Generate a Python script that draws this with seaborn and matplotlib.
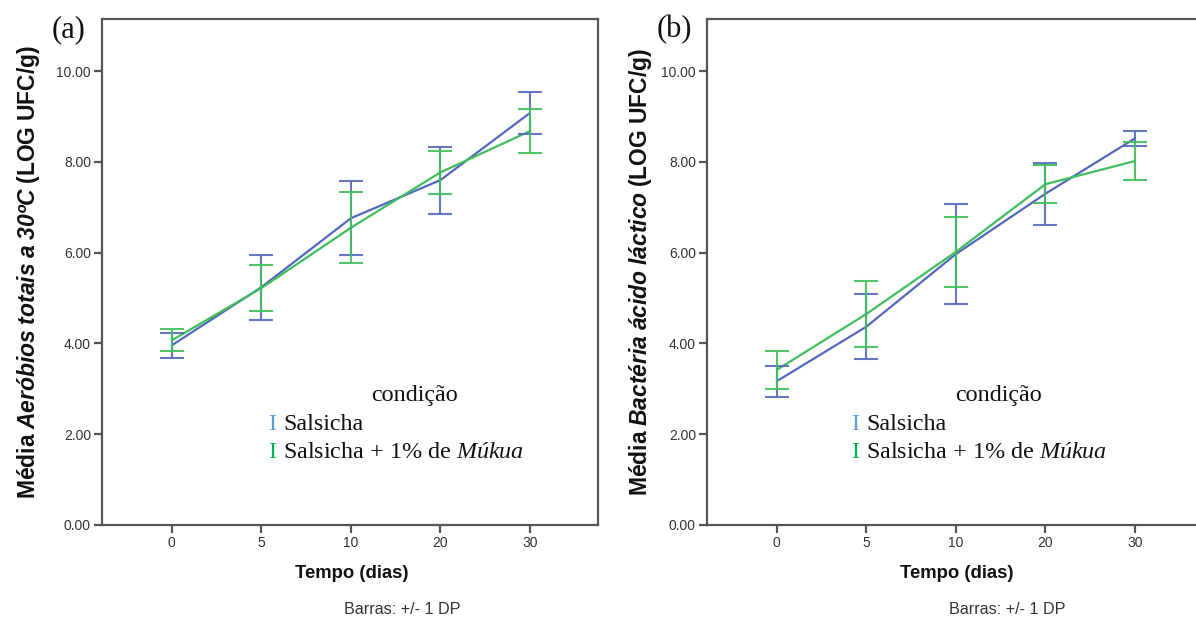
import numpy as np
import pandas as pd
import matplotlib
matplotlib.use("Agg")
import matplotlib.pyplot as plt
import seaborn as sns

# ---- data ----
days = ["0", "5", "10", "20", "30"]
conditions = ["Salsicha", "Salsicha + 1% de Múkua"]

a_mean_salsicha = [3.96, 5.24, 6.76, 7.60, 9.08]
a_sd_salsicha = [0.27, 0.72, 0.81, 0.74, 0.46]
a_mean_mukua = [4.07, 5.22, 6.55, 7.77, 8.68]
a_sd_mukua = [0.24, 0.50, 0.78, 0.48, 0.48]

b_mean_salsicha = [3.17, 4.37, 5.97, 7.30, 8.52]
b_sd_salsicha = [0.34, 0.72, 1.10, 0.68, 0.17]
b_mean_mukua = [3.42, 4.65, 6.02, 7.51, 8.02]
b_sd_mukua = [0.42, 0.72, 0.77, 0.42, 0.42]

y_ticks = [0, 2, 4, 6, 8, 10]

sns.set_theme(style="white")
plt.rcParams["font.family"] = ["Liberation Sans", "DejaVu Sans"]
plt.rcParams["mathtext.fontset"] = "custom"
plt.rcParams["mathtext.rm"] = "Liberation Serif"
plt.rcParams["mathtext.it"] = "Liberation Serif:italic"
plt.rcParams["mathtext.bf"] = "Liberation Sans:bold"
plt.rcParams["mathtext.bfit"] = "Liberation Sans:italic:bold"

BLUE = "#5567bd"
GREEN = "#3fbf5c"
LEG_BLUE = "#5b9bd5"
LEG_GREEN = "#00b050"
SPINE = "#555555"

fig = plt.figure(figsize=(11.96, 6.24), dpi=100)

W = 1196.0
H = 624.0
ax_w = 496 / W
ax_b = 1 - 525 / H
ax_h = (525 - 19) / H
ax_a = fig.add_axes([102 / W, ax_b, ax_w, ax_h])
ax_bb = fig.add_axes([707 / W, ax_b, ax_w, ax_h])


def draw_panel(ax, m1, s1, m2, s2):
    pos = np.arange(len(days))
    df = pd.DataFrame({
        "pos": np.concatenate([pos, pos]),
        "mean": m1 + m2,
        "sd": s1 + s2,
        "cond": [conditions[0]] * len(days) + [conditions[1]] * len(days),
    })
    pal = {conditions[0]: BLUE, conditions[1]: GREEN}
    sns.lineplot(data=df, x="pos", y="mean", hue="cond", palette=pal,
                 legend=False, ax=ax, linewidth=1.6, sort=False)
    for cond in conditions:
        sub = df[df["cond"] == cond]
        ax.errorbar(sub["pos"], sub["mean"], yerr=sub["sd"], fmt="none",
                    ecolor=pal[cond], elinewidth=1.5, capsize=8.5,
                    capthick=1.5, alpha=0.9)
    ax.set_xlim(-0.78, 4.76)
    ax.set_ylim(0, 11.15)
    ax.set_xticks(pos)
    ax.set_xticklabels(days)
    ax.set_yticks(y_ticks)
    ax.set_yticklabels([f"{v:.2f}" for v in y_ticks])
    ax.set_xlabel("")
    ax.set_ylabel("")
    for sp in ax.spines.values():
        sp.set_color(SPINE)
        sp.set_linewidth(1.6)
    ax.tick_params(axis="both", which="major", direction="out", length=6,
                   width=1.6, color=SPINE, labelsize=10, labelcolor="#333333",
                   left=True, bottom=True, pad=2)
    ax.grid(False)


draw_panel(ax_a, a_mean_salsicha, a_sd_salsicha, a_mean_mukua, a_sd_mukua)
draw_panel(ax_bb, b_mean_salsicha, b_sd_salsicha, b_mean_mukua, b_sd_mukua)

# axis labels
for x0 in (352, 957):
    fig.text(x0 / W, 1 - 573 / H, "Tempo (dias)", ha="center", va="center",
             fontsize=13.3, fontweight="bold", color="#111111")
    fig.text((x0 + 50) / W, 1 - 610 / H, "Barras: +/- 1 DP", ha="center",
             va="center", fontsize=11.6, color="#333333")

fig.text(29 / W, 1 - 272 / H,
         r"$\mathbf{Média}\ \mathbfit{Aeróbios\ totais\ a\ 30ºC}\ \mathbf{(LOG\ UFC/g)}$",
         rotation=90, ha="center", va="center", fontsize=16.5, color="#111111")
fig.text(640 / W, 1 - 272 / H,
         r"$\mathbf{Média}\ \mathbfit{Bactéria\ ácido\ láctico}\ \mathbf{(LOG\ UFC/g)}$",
         rotation=90, ha="center", va="center", fontsize=16.5, color="#111111")

# panel letters
fig.text(52 / W, 1 - 30 / H, "(a)", family="Liberation Serif", fontsize=22,
         ha="left", va="center", color="#111111")
fig.text(657 / W, 1 - 30 / H, "(b)", family="Liberation Serif", fontsize=22,
         ha="left", va="center", color="#111111")

# legends
for cx, ix in ((415, 268), (998, 851)):
    fig.text(cx / W, 1 - 396 / H, "condição", family="Liberation Serif",
             fontsize=17.4, ha="center", va="center", color="#111111")
    fig.text(ix / W, 1 - 425 / H, "I", family="Liberation Serif",
             fontsize=17.4, ha="left", va="center", color=LEG_BLUE)
    fig.text((ix + 15) / W, 1 - 425 / H, "Salsicha", family="Liberation Serif",
             fontsize=17.4, ha="left", va="center", color="#111111")
    fig.text(ix / W, 1 - 453 / H, "I", family="Liberation Serif",
             fontsize=17.4, ha="left", va="center", color=LEG_GREEN)
    fig.text((ix + 15) / W, 1 - 453 / H,
             r"Salsicha + 1% de $\mathit{Múkua}$", family="Liberation Serif",
             fontsize=17.4, ha="left", va="center", color="#111111")

fig.savefig("out.png", dpi=100)
